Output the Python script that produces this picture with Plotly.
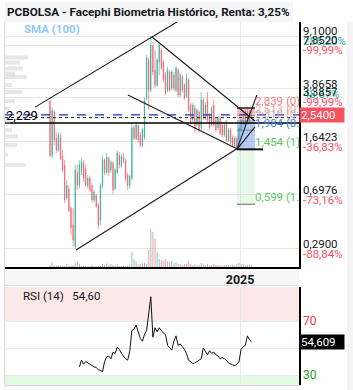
import numpy as np
import plotly.graph_objects as go

# ---------------- data ----------------
idx = list(range(97))
opens = [3.18,1.32,2.66,1.74,1.43,1.77,1.30,1.13,0.66,0.77,0.56,0.425,0.30,1.00,0.81,1.04,1.16,1.07,0.81,0.91,
         0.81,0.64,0.69,0.59,0.46,0.80,1.22,1.00,1.26,1.04,1.16,0.77,1.00,1.32,1.11,1.28,1.22,0.96,0.81,0.91,
         2.06,1.74,2.12,1.83,1.55,1.77,3.34,6.17,3.79,7.74,5.25,4.11,5.97,7.26,5.97,4.84,3.79,5.08,3.92,4.84,
         3.79,5.25,3.50,4.68,4.11,3.44,4.46,2.98,2.34,2.83,2.16,2.66,2.06,3.23,2.41,3.23,2.53,2.16,2.98,2.34,
         2.06,2.41,2.16,1.83,2.26,1.69,1.99,1.77,1.55,1.74,1.50,1.99,2.53,2.16,2.66,2.30,2.49]
highs = [3.23,2.88,2.74,1.92,1.92,1.89,1.43,1.22,0.88,0.81,0.58,0.56,1.13,1.13,1.22,1.26,1.22,1.13,0.96,0.94,
         0.84,0.75,0.71,0.61,0.84,1.32,1.26,1.37,1.30,1.22,1.20,1.07,1.43,1.39,1.35,1.37,1.26,1.00,0.97,2.23,
         2.16,2.26,2.20,1.92,2.06,3.34,6.69,6.48,9.10,8.25,7.26,6.38,8.11,7.50,6.17,5.08,5.51,5.25,5.25,5.08,
         5.60,5.42,4.99,4.84,4.25,4.99,4.61,3.08,3.08,2.98,2.83,2.74,3.67,3.39,3.13,3.67,2.62,2.93,3.23,2.41,
         2.49,2.49,2.26,2.26,2.34,2.06,2.06,1.83,1.80,1.80,2.16,2.41,2.74,2.74,2.83,2.70,2.62]
lows = [1.28,1.26,1.55,1.37,1.39,1.22,1.00,0.61,0.64,0.525,0.36,0.305,0.29,0.75,0.77,0.96,0.86,0.79,0.77,0.73,
        0.61,0.62,0.56,0.40,0.425,0.77,0.96,0.97,0.94,0.99,0.70,0.75,0.97,1.07,1.07,1.16,0.86,0.75,0.77,0.88,
        1.69,1.69,1.61,1.50,1.50,1.69,3.23,2.74,3.67,4.84,3.92,3.99,4.84,5.25,4.25,3.50,3.67,3.67,3.79,3.73,
        3.67,3.39,3.39,3.61,3.23,3.34,2.66,2.16,2.26,1.89,2.09,1.92,1.99,2.34,2.34,2.26,1.99,2.09,2.09,1.92,
        1.99,1.83,1.77,1.77,1.64,1.64,1.58,1.50,1.50,1.454,1.48,1.92,2.09,2.09,2.26,2.20,2.45]
closes = [1.32,2.74,1.69,1.43,1.83,1.26,1.04,0.64,0.81,0.54,0.41,0.335,1.04,0.81,1.13,1.18,0.91,0.81,0.91,0.75,
          0.64,0.73,0.58,0.425,0.81,1.22,1.00,1.28,1.00,1.18,0.75,1.04,1.37,1.13,1.30,1.22,0.91,0.81,0.94,2.06,
          1.74,2.16,1.69,1.55,1.99,3.23,6.38,3.79,7.86,5.08,4.11,6.17,7.86,5.42,4.46,3.61,5.25,3.79,5.08,3.92,
          5.42,3.50,4.84,3.79,3.34,4.61,2.74,2.23,2.98,2.06,2.74,1.99,3.23,2.41,2.98,2.34,2.06,2.83,2.16,1.99,
          2.41,1.89,1.83,2.16,1.69,1.99,1.64,1.55,1.74,1.50,2.06,2.34,2.16,2.66,2.34,2.62,2.54]
volumes = [20,50,15,15,15,15,15,10,30,15,15,20,40,50,30,10,10,15,5,10,
           25,10,10,10,10,30,20,35,20,30,20,15,25,10,10,15,10,15,20,150,
           80,60,30,30,40,40,30,170,380,350,280,150,80,70,60,80,60,50,60,40,
           50,30,30,20,30,30,50,30,20,30,20,20,40,30,20,30,20,20,30,20,
           20,20,15,20,20,20,15,20,20,30,40,30,30,20,20,20,15]
rsi_start = 14
rsi_vals = [36,41,38,40,39,38,36.7,36,35.5,34,
            33.5,32.4,40,43.5,44,42,47,46,50.5,49,
            46,44,42,41,48,63,64,67,61,57,
            55,60,63,74,88,58,65,62,65,63,
            61,60,52,50,48.5,55,59,52,53,51,
            49,46,41,40,38.5,39,40,41,42,50,
            47,45,48,46,47,45,44,42,43,42,
            41,39,38,37.5,37,38,40,49,51,52,
            59,56,54.6]

# volume profile (price level, relative volume)
vp_price = [6.43,5.93,5.38,4.96,4.69,4.12,3.68,3.16,2.81,2.28,1.99,1.79,1.56,1.33,1.13]
vp_vol = [230,150,180,100,220,70,170,100,50,50,70,130,120,30,200]

# horizontal reference lines
last_price = 2.54
dotted_level = 2.43
support_level = 2.229

# right axis level labels: (level, price text, pct text, pct colour)
axis_levels = [(9.1, "9,1000", "285,20%", "#22ab94"),
               (7.852, "7,8520", "-99,99%", "#f7525f"),
               (3.8658, "3,8658", "48,67%", "#22ab94"),
               (3.3857, "3,3857", "-99,99%", "#f7525f"),
               (1.6423, "1,6423", "-36,83%", "#f7525f"),
               (0.6976, "0,6976", "-73,16%", "#f7525f"),
               (0.29, "0,2900", "-88,84%", "#f7525f")]
grid_levels = [0.29, 0.6976, 1.6423, 3.3857, 3.8658, 7.852, 9.1]

# trend line drawings (index, price) anchors
drawings = [[(-7.1, 2.88), (62.1, 11.8)],
            [(48.6, 8.95), (97.6, 2.30)],
            [(37.1, 3.50), (89.0, 1.47)],
            [(12.4, 0.285), (89.0, 1.47)],
            [(89.0, 1.454), (98.5, 3.5)],
            [(89.0, 1.454), (97.6, 2.09)]]

# fibonacci tool
fib_x0, fib_x1 = 89.05, 97.6
fib_hi, fib_lo = 2.839, 1.454
fib_ratios = [0, 0.236, 0.382, 0.618, 1, 1.618]
fib_texts = ["2,839 (0)", "2,513 (0.236)", "2,310 (0.382)", "1,984 (0.618)", "1,454 (1)", "0,599 (1.618)"]
fib_colors = ["#f08080", "rgba(240,140,140,0.8)", "rgba(200,150,150,0.7)", "#3d7ee0", "#5cc85c", "#5cc85c"]

tick_2025 = 90.5
x_range = [-21.43, 118.57]

INC = "#22ab94"
DEC = "#f7525f"
FONT = "Roboto"

W, H = 353, 390
px = lambda v: v / W
py = lambda v: 1 - v / H
lg = np.log10

fig = go.Figure()

# volume profile
vx, vy = [], []
for p, v in zip(vp_price, vp_vol):
    vx += [0, v, None]
    vy += [p, p, None]
fig.add_trace(go.Scatter(x=vx, y=vy, xaxis="x3", yaxis="y", mode="lines",
                         line=dict(color="rgba(185,185,185,0.35)", width=4), hoverinfo="skip"))

# volume bars
vcol = ["rgba(34,171,148,0.55)" if c >= o else "rgba(247,82,95,0.55)" for o, c in zip(opens, closes)]
fig.add_trace(go.Bar(x=idx, y=volumes, xaxis="x", yaxis="y2", marker=dict(color=vcol, line=dict(width=0)),
                     width=0.5, hoverinfo="skip"))

# fib band fills (drawn as filled scatter polygons in data space)
fib_levels = [fib_hi - r * (fib_hi - fib_lo) for r in fib_ratios]
bands = [(0, 1, "rgba(232,110,115,0.45)"), (1, 2, "rgba(235,150,150,0.35)"),
         (2, 4, "rgba(90,140,230,0.45)"), (4, 5, "rgba(120,220,120,0.16)")]
for a, b, col in bands:
    fig.add_trace(go.Scatter(x=[fib_x0, fib_x1, fib_x1, fib_x0, fib_x0],
                             y=[fib_levels[a], fib_levels[a], fib_levels[b], fib_levels[b], fib_levels[a]],
                             mode="lines", fill="toself", fillcolor=col, line=dict(width=0), hoverinfo="skip"))

# horizontal lines
fig.add_trace(go.Scatter(x=x_range, y=[support_level] * 2, mode="lines", line=dict(color="#000", width=1.5),
                         hoverinfo="skip"))
fig.add_trace(go.Scatter(x=x_range, y=[dotted_level] * 2, mode="lines",
                         line=dict(color="#222", width=1, dash="dot"), hoverinfo="skip"))
fig.add_trace(go.Scatter(x=x_range, y=[last_price] * 2, mode="lines",
                         line=dict(color="#1630c8", width=1.4, dash="dash"), hoverinfo="skip"))

# candlesticks
fig.add_trace(go.Candlestick(x=idx, open=opens, high=highs, low=lows, close=closes, xaxis="x", yaxis="y",
                             increasing=dict(line=dict(color=INC, width=0.6), fillcolor=INC),
                             decreasing=dict(line=dict(color=DEC, width=0.6), fillcolor=DEC),
                             whiskerwidth=0, hoverinfo="skip"))

# fib level lines
fib_line_style = [("#222", 1.5, fib_x1), ("rgba(120,120,120,0.6)", 1, fib_x1), ("rgba(120,120,120,0.6)", 1, fib_x1),
                  ("rgba(80,80,80,0.5)", 1, fib_x1), ("#111", 2, fib_x1 + 3.8), ("#666", 1, fib_x1)]
for lvl, (c, w, xe) in zip(fib_levels, fib_line_style):
    fig.add_trace(go.Scatter(x=[fib_x0, xe], y=[lvl, lvl], mode="lines", line=dict(color=c, width=w),
                             hoverinfo="skip"))

# drawings
for seg in drawings:
    fig.add_trace(go.Scatter(x=[p[0] for p in seg], y=[p[1] for p in seg], mode="lines",
                             line=dict(color="#1a1a1a", width=1.1), hoverinfo="skip"))

# fib labels (clipped by plot area)
for lvl, t, c in zip(fib_levels, fib_texts, fib_colors):
    fig.add_trace(go.Scatter(x=[fib_x1], y=[lvl], mode="text", text=[t], textposition="top right",
                             textfont=dict(color=c, size=11.5, family=FONT), cliponaxis=True, hoverinfo="skip"))

# RSI
fig.add_trace(go.Scatter(x=idx[rsi_start:], y=rsi_vals, xaxis="x2", yaxis="y3", mode="lines",
                         line=dict(color="#111", width=1), hoverinfo="skip"))

shapes = []
# RSI zones
shapes.append(dict(type="rect", xref="x2 domain", yref="y3", x0=0, x1=1, y0=70, y1=95.2,
                   fillcolor="#fde8e8", line=dict(width=0), layer="below"))
shapes.append(dict(type="rect", xref="x2 domain", yref="y3", x0=0, x1=1, y0=22.6, y1=30,
                   fillcolor="#e2fbe2", line=dict(width=0), layer="below"))
# frame / background decorations
shapes.append(dict(type="rect", xref="paper", yref="paper", x0=px(5), x1=px(299), y0=py(285), y1=py(268),
                   fillcolor="#f7f7f7", line=dict(width=0), layer="below"))
shapes.append(dict(type="line", xref="paper", yref="paper", x0=px(5), x1=px(299), y0=py(285.5), y1=py(285.5),
                   line=dict(color="#dcdcdc", width=1)))
shapes.append(dict(type="line", xref="paper", yref="paper", x0=px(4.5), x1=px(4.5), y0=py(385), y1=py(22),
                   line=dict(color="#d8d8d8", width=1)))
shapes.append(dict(type="rect", xref="paper", yref="paper", x0=px(347), x1=1, y0=0, y1=py(22),
                   fillcolor="#f4f4f4", line=dict(width=0), layer="below"))
shapes.append(dict(type="rect", xref="paper", yref="paper", x0=px(5), x1=px(293), y0=py(22), y1=py(2),
                   fillcolor="rgba(246,246,246,0.95)", line=dict(width=0), layer="above"))

ann = []
ann.append(dict(text="<b>PCBOLSA - Facephi Biometria Histórico, Renta: 3,25%</b>", xref="paper", yref="paper",
                x=px(5), y=py(12), xanchor="left", yanchor="middle", showarrow=False,
                font=dict(size=11.7, color="#131722", family=FONT)))
ann.append(dict(text="<b>SMA (100)</b>", xref="paper", yref="paper", x=px(22), y=py(29), xanchor="left",
                yanchor="middle", showarrow=False, font=dict(size=11.5, color="#90c8f5", family=FONT)))
ann.append(dict(text="2,229", xref="paper", yref="y", x=px(4), y=lg(support_level), yshift=7, xanchor="left",
                yanchor="middle", showarrow=False, font=dict(size=13, color="#000", family=FONT)))
for lvl, ptxt, pct, pcol in axis_levels:
    ann.append(dict(text=ptxt, xref="paper", yref="y", x=px(301), y=lg(lvl), yshift=5, xanchor="left",
                    yanchor="middle", showarrow=False, font=dict(size=11.5, color="#131722", family=FONT)))
    ann.append(dict(text=pct, xref="paper", yref="y", x=px(301), y=lg(lvl), yshift=-5, xanchor="left",
                    yanchor="middle", showarrow=False, font=dict(size=11.5, color=pcol, family=FONT)))
ann.append(dict(text="2,5400", xref="paper", yref="y", x=px(299), y=lg(last_price), xanchor="left",
                yanchor="middle", showarrow=False, bgcolor="#f7525f", width=42, height=12, align="left",
                borderpad=1, font=dict(size=11.5, color="#fff", family=FONT)))
ann.append(dict(text="70", xref="paper", yref="y3", x=px(301), y=70, xanchor="left", yanchor="middle",
                showarrow=False, font=dict(size=12, color="#f23645", family=FONT)))
ann.append(dict(text="30", xref="paper", yref="y3", x=px(301), y=30, xanchor="left", yanchor="middle",
                showarrow=False, font=dict(size=12, color="#1a9c1a", family=FONT)))
ann.append(dict(text="54,609", xref="paper", yref="y3", x=px(299), y=rsi_vals[-1], xanchor="left",
                yanchor="middle", showarrow=False, bgcolor="#000", width=42, height=12, align="left",
                borderpad=1, font=dict(size=11.5, color="#fff", family=FONT)))
ann.append(dict(text="RSI (14)&nbsp;&nbsp;&nbsp;54,60", xref="paper", yref="paper", x=px(21), y=py(296),
                xanchor="left", yanchor="middle", showarrow=False,
                font=dict(size=11.5, color="#131722", family=FONT)))

grid = "#e8e8e8"
fig.update_layout(
    width=W, height=H, margin=dict(l=0, r=0, t=0, b=0),
    paper_bgcolor="#fff", plot_bgcolor="rgba(0,0,0,0)", showlegend=False,
    shapes=shapes, annotations=ann, bargap=0.3, boxgap=0.7,
    xaxis=dict(domain=[px(5), px(299)], range=x_range, anchor="y", tickvals=[tick_2025],
               ticktext=["<b>2025</b>"], tickfont=dict(size=12.5, color="#131722", family=FONT),
               showgrid=True, gridcolor=grid, showline=True, linecolor="#000", linewidth=1.5,
               zeroline=False, ticks="", rangeslider=dict(visible=False), fixedrange=True),
    yaxis=dict(domain=[py(267), py(22)], type="log", range=[-0.6643, 1.0574], side="right", anchor="x",
               tickvals=grid_levels, showticklabels=False, showgrid=True, gridcolor=grid, showline=True,
               linecolor="#000", linewidth=1.5, zeroline=False, ticks=""),
    yaxis2=dict(overlaying="y", range=[0, 2450], visible=False, anchor="x"),
    xaxis3=dict(overlaying="x", range=[0, 2940], visible=False, anchor="y"),
    xaxis2=dict(domain=[px(5), px(299)], range=x_range, anchor="y3", tickvals=[tick_2025],
                showticklabels=False, showgrid=True, gridcolor=grid, showline=True, linecolor="#d8d8d8",
                zeroline=False, ticks=""),
    yaxis3=dict(domain=[py(385), py(287)], range=[22.6, 95.2], side="right", anchor="x2",
                tickvals=[30, 50, 70], showticklabels=False, showgrid=True, gridcolor=grid, showline=True,
                linecolor="#000", linewidth=1.5, zeroline=False, ticks=""),
)

fig.write_html("out.html")
